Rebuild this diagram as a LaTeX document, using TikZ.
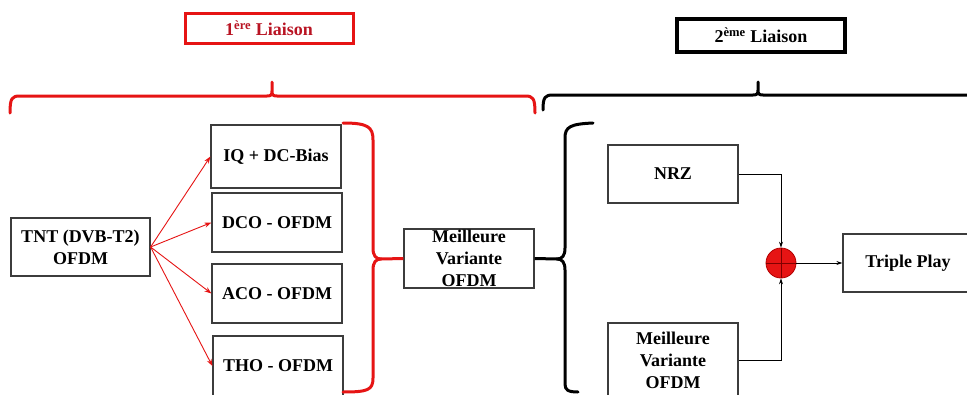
\documentclass[tikz,border=0pt]{standalone}
\usepackage{fontspec}
\setmainfont{Liberation Serif}
\usetikzlibrary{arrows.meta}
\definecolor{bred}{RGB}{230,20,20}
\definecolor{tred}{RGB}{185,20,35}
\definecolor{boxline}{RGB}{60,60,60}
\tikzset{
  blk/.style={draw=boxline, line width=1.2pt, fill=white, align=center,
    font=\fontsize{18}{22}\selectfont\bfseries, inner sep=0pt},
  lbl/.style={line width=3pt, fill=white, align=center,
    font=\fontsize{18}{22}\selectfont\bfseries, inner sep=0pt},
  redarrow/.style={draw=bred, line width=0.9pt, -{Stealth[length=7pt,width=5pt]}},
  blkarrow/.style={draw=black, line width=0.8pt, -{Stealth[length=6pt,width=4pt]}},
  bigbrace/.style={line width=3pt, line cap=round, line join=round},
}
\begin{document}
\begin{tikzpicture}[x=1pt,y=-1pt]
\useasboundingbox (0,0) rectangle (967,394);
\fill[white] (0,0) rectangle (967,394);

% labels
\node[lbl, draw=bred, text=tred, minimum width=168, minimum height=30] (l1) at (269,28) {1\textsuperscript{ère} Liaison};
\node[lbl, draw=black, line width=3.5pt, text=black, minimum width=168, minimum height=33] (l2) at (761,35.5) {2\textsuperscript{ème} Liaison};

% big braces
\draw[bigbrace, bred] (10,113) .. controls (10,98) and (12,96) .. (20,96) -- (267,96)
  .. controls (271,96) and (272,95) .. (272,91) -- (272,82) -- (272,91)
  .. controls (272,95) and (273,96) .. (277,96)
  -- (525,96) .. controls (533,96) and (535,98) .. (535,113);
\draw[bigbrace, black] (543,110) .. controls (543,97) and (545,95) .. (553,95) -- (753,95)
  .. controls (757,95) and (758,94) .. (758,90) -- (758,82) -- (758,90)
  .. controls (758,94) and (759,95) .. (763,95)
  -- (975,95);

% left blocks
\node[blk, minimum width=139, minimum height=58] (tnt) at (80.5,247) {TNT (DVB-T2)\\OFDM};
\node[blk, minimum width=130, minimum height=63] (iq) at (276,156.5) {IQ + DC-Bias};
\node[blk, minimum width=130, minimum height=59] (dco) at (277,222.5) {DCO - OFDM};
\node[blk, minimum width=130, minimum height=59] (aco) at (277,293.5) {ACO - OFDM};
\node[blk, minimum width=130, minimum height=60] (tho) at (278,366) {THO - OFDM};

\draw[redarrow] (tnt.east) -- (iq.west);
\draw[redarrow] (tnt.east) -- (dco.west);
\draw[redarrow] (tnt.east) -- (aco.west);
\draw[redarrow] (tnt.east) -- (tho.west);

% middle block
\node[blk, minimum width=130, minimum height=59] (mv) at (469,258.5) {Meilleure\\Variante\\OFDM};

% red closing brace
\coordinate (rc) at (381,259);
\draw[bigbrace, bred] (343,123) .. controls (368,123) and (373,127) .. (373,140) -- (373,248)
  .. controls (373,256) and (376,259) .. (rc);
\draw[bigbrace, bred] (rc) .. controls (376,259) and (373,262) .. (373,270) -- (373,378)
  .. controls (373,390) and (368,392) .. (343,392);
\draw[bred, line width=3pt] (rc) -- (mv.west);

% black opening brace
\coordinate (bc) at (557,259);
\draw[bigbrace, black] (593,123) .. controls (570,124) and (565,127) .. (565,138) -- (565,248)
  .. controls (565,256) and (562,259) .. (bc);
\draw[bigbrace, black] (bc) .. controls (562,259) and (565,262) .. (565,270) -- (565,384)
  .. controls (565,390) and (568,392) .. (578,392);
\draw[black, line width=3pt] (mv.east) -- (bc);

% right blocks
\node[blk, minimum width=130, minimum height=58] (nrz) at (673,174) {NRZ};
\node[blk, minimum width=130, minimum height=74] (mv2) at (673,360) {Meilleure\\Variante\\OFDM};
\node[blk, minimum width=130, minimum height=58] (tp) at (908,263) {Triple Play};

\node[circle, draw=red!70!black, line width=0.8pt, fill=bred, minimum size=30, inner sep=0pt] (sum) at (781,263) {};
\draw[red!50!black, line width=0.6pt] (sum.north) -- (sum.south) (sum.west) -- (sum.east);

\draw[blkarrow] (nrz.east) -| (sum.north);
\draw[blkarrow] (mv2.east) -| (sum.south);
\draw[blkarrow] (sum.east) -- (tp.west);
\end{tikzpicture}
\end{document}
